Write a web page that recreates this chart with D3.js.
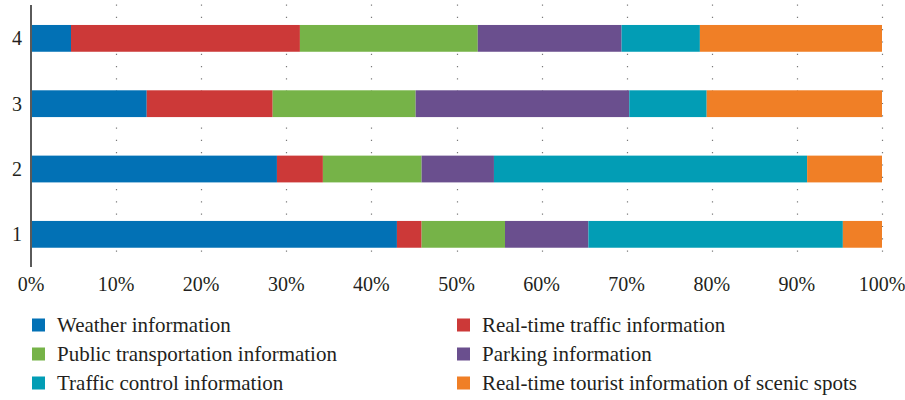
<!DOCTYPE html>
<html>
<head>
<meta charset="utf-8">
<script src="https://cdn.jsdelivr.net/npm/d3@7"></script>
<style>
  body { margin: 0; background: #fff; }
  svg { display: block; }
  text { font-family: "Liberation Serif", "DejaVu Serif", serif; fill: #231f20; }
</style>
</head>
<body>
<svg id="chart" width="905" height="400"></svg>
<script>
const categories = ["1", "2", "3", "4"];
const seriesNames = [
  "Weather information",
  "Real-time traffic information",
  "Public transportation information",
  "Parking information",
  "Traffic control information",
  "Real-time tourist information of scenic spots"
];
const seriesColors = ["#0271b5", "#cc3938", "#76b348", "#6a4f8e", "#029db5", "#f07f26"];
// percentage values per category (1..4)
const weather     = [43.0, 28.9, 13.6, 4.7];
const realTraffic = [2.9, 5.4, 14.8, 26.9];
const publicTrans = [9.8, 11.6, 16.8, 20.9];
const parking     = [9.8, 8.5, 25.1, 16.9];
const control     = [29.9, 36.8, 9.1, 9.2];
const tourist     = [4.6, 8.8, 20.6, 21.4];
const xTicks = [0, 10, 20, 30, 40, 50, 60, 70, 80, 90, 100];
const xTickLabels = ["0%", "10%", "20%", "30%", "40%", "50%", "60%", "70%", "80%", "90%", "100%"];

const seriesValues = [weather, realTraffic, publicTrans, parking, control, tourist];
const keys = seriesNames;
const table = categories.map((c, i) => {
  const row = { cat: c };
  keys.forEach((k, j) => row[k] = seriesValues[j][i]);
  return row;
});

const svg = d3.select("#chart");
const x = d3.scaleLinear().domain([0, 100]).range([31, 882]);
const y = d3.scaleBand().domain(["4", "3", "2", "1"]).range([5.7, 267])
  .paddingInner(0.59).paddingOuter(0.295);

// dotted gridlines
svg.append("g").selectAll("line").data(xTicks.slice(1)).join("line")
  .attr("x1", d => Math.round(x(d)) + 0.5).attr("x2", d => Math.round(x(d)) + 0.5)
  .attr("y1", 4.5).attr("y2", 262)
  .attr("stroke", "#7a7a7a").attr("stroke-width", 1.2)
  .attr("stroke-dasharray", "1.2,11.1");

// stacked bars
const stack = d3.stack().keys(keys)(table);
svg.append("g").selectAll("g").data(stack).join("g")
  .attr("fill", (d, i) => seriesColors[i])
  .selectAll("rect").data(d => d).join("rect")
  .attr("x", d => x(d[0]))
  .attr("width", d => x(d[1]) - x(d[0]))
  .attr("y", d => y(d.data.cat))
  .attr("height", y.bandwidth());

// y axis line
svg.append("line").attr("x1", 31).attr("x2", 31).attr("y1", 5).attr("y2", 267)
  .attr("stroke", "#5a5a5a").attr("stroke-width", 2);

// y labels
svg.append("g").selectAll("text").data(categories).join("text")
  .attr("x", 22).attr("y", d => y(d) + y.bandwidth() / 2)
  .attr("dy", "0.35em").attr("text-anchor", "end")
  .style("font-size", "20px").text(d => d);

// x tick labels
svg.append("g").selectAll("text").data(xTicks).join("text")
  .attr("x", d => x(d)).attr("y", 291)
  .attr("text-anchor", "middle")
  .style("font-size", "20px").text((d, i) => xTickLabels[i]);

// legend
const legendPos = [[32, 325], [457, 325], [32, 354], [457, 354], [32, 383], [457, 383]];
const lg = svg.append("g").selectAll("g").data(seriesNames).join("g")
  .attr("transform", (d, i) => `translate(${legendPos[i][0]},${legendPos[i][1]})`);
lg.append("rect").attr("x", 0).attr("y", -6.5).attr("width", 13).attr("height", 13)
  .attr("fill", (d, i) => seriesColors[i]);
lg.append("text").attr("x", 25).attr("y", 0).attr("dy", "0.33em")
  .style("font-size", "21px").text(d => d);
</script>
</body>
</html>
